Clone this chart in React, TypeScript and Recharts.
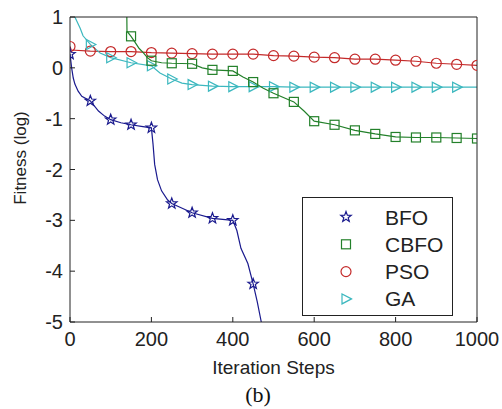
import React from 'react';
import { LineChart, Line, XAxis, YAxis } from 'recharts';

// ---- data ----
const bfoX = [0, 4, 8, 12, 20, 29, 50, 70, 85, 100, 125, 150, 175, 200, 204, 208, 215, 225, 240, 250, 300, 350, 400, 410, 420, 437, 450, 460, 470];
const bfoY = [0.27, 0.0, -0.2, -0.32, -0.46, -0.56, -0.65, -0.85, -0.95, -1.02, -1.08, -1.12, -1.15, -1.18, -1.5, -1.9, -2.2, -2.42, -2.6, -2.67, -2.85, -2.96, -3.0, -3.2, -3.55, -3.85, -4.25, -4.6, -5.0];

const cbfoX = [139, 140, 150, 160, 170, 180, 190, 200, 225, 250, 300, 325, 350, 400, 425, 450, 475, 500, 550, 575, 600, 650, 700, 750, 800, 850, 900, 950, 1000];
const cbfoY = [1.5, 0.72, 0.62, 0.5, 0.38, 0.3, 0.2, 0.14, 0.1, 0.09, 0.08, 0.0, -0.04, -0.06, -0.18, -0.28, -0.4, -0.5, -0.67, -0.85, -1.05, -1.12, -1.23, -1.3, -1.36, -1.37, -1.37, -1.38, -1.39];

const psoX = [0, 3, 50, 100, 150, 200, 250, 300, 350, 400, 450, 500, 550, 600, 650, 700, 750, 800, 850, 900, 950, 1000];
const psoY = [0.42, 0.35, 0.33, 0.32, 0.32, 0.3, 0.29, 0.28, 0.27, 0.27, 0.27, 0.24, 0.23, 0.21, 0.2, 0.17, 0.17, 0.15, 0.13, 0.09, 0.07, 0.05];

const gaX = [0, 12, 25, 32, 50, 74, 100, 150, 200, 221, 250, 275, 300, 350, 400, 450, 500, 550, 600, 650, 700, 750, 800, 850, 900, 950, 1000];
const gaY = [1.4, 1.0, 0.78, 0.63, 0.46, 0.29, 0.2, 0.1, 0.04, -0.1, -0.22, -0.3, -0.33, -0.36, -0.37, -0.37, -0.37, -0.38, -0.38, -0.38, -0.38, -0.38, -0.38, -0.38, -0.38, -0.38, -0.38];

const seriesNames = ['BFO', 'CBFO', 'PSO', 'GA'];
const xTicks = [0, 200, 400, 600, 800, 1000];
const yTicks = [-5, -4, -3, -2, -1, 0, 1];

const zip = (xs: number[], ys: number[]) => xs.map((x, i) => ({ x, y: ys[i] }));
const bfoData = zip(bfoX, bfoY);
const cbfoData = zip(cbfoX, cbfoY);
const psoData = zip(psoX, psoY);
const gaData = zip(gaX, gaY);

const C_BFO = '#1a1a8e';
const C_CBFO = '#23802a';
const C_PSO = '#c42a2a';
const C_GA = '#3cb8bf';

type Shape = 'star' | 'square' | 'circle' | 'tri';

function Marker({ shape, color, cx, cy }: { shape: Shape; color: string; cx: number; cy: number }) {
  if (shape === 'star') {
    const pts: string[] = [];
    for (let i = 0; i < 10; i++) {
      const r = i % 2 === 0 ? 5.5 : 2.3;
      const a = -Math.PI / 2 + (i * Math.PI) / 5;
      pts.push(`${cx + r * Math.cos(a)},${cy + r * Math.sin(a)}`);
    }
    return <polygon points={pts.join(' ')} fill="none" stroke={color} strokeWidth={1.2} />;
  }
  if (shape === 'square') {
    return <rect x={cx - 4.5} y={cy - 4.5} width={9} height={9} fill="none" stroke={color} strokeWidth={1.2} />;
  }
  if (shape === 'circle') {
    return <circle cx={cx} cy={cy} r={5} fill="none" stroke={color} strokeWidth={1.2} />;
  }
  return (
    <polygon
      points={`${cx + 5.5},${cy} ${cx - 4},${cy - 5} ${cx - 4},${cy + 5}`}
      fill="none"
      stroke={color}
      strokeWidth={1.2}
    />
  );
}

function makeDot(shape: Shape, color: string, maxMark: number) {
  return (props: any) => {
    const { cx, cy, payload, index } = props;
    if (
      payload == null ||
      payload.x % 50 !== 0 ||
      payload.x > maxMark ||
      payload.y > 1 ||
      payload.y < -5
    ) {
      return <g key={`e${index}`} />;
    }
    return (
      <g key={`m${index}`}>
        <Marker shape={shape} color={color} cx={cx} cy={cy} />
      </g>
    );
  };
}

const tickFont = { fontSize: 20, fontFamily: 'Liberation Sans, Arial, sans-serif', fill: '#222' };

function YTitle() {
  const cx = 20;
  const cy = 158;
  return (
    <text
      x={cx}
      y={cy}
      transform={`rotate(-90 ${cx} ${cy})`}
      textAnchor="middle"
      dominantBaseline="central"
      fontSize={17}
      fontFamily="Liberation Sans, Arial, sans-serif"
      fill="#222"
    >
      Fitness (log)
    </text>
  );
}

const legendItems: { name: string; shape: Shape; color: string }[] = [
  { name: seriesNames[0], shape: 'star', color: C_BFO },
  { name: seriesNames[1], shape: 'square', color: C_CBFO },
  { name: seriesNames[2], shape: 'circle', color: C_PSO },
  { name: seriesNames[3], shape: 'tri', color: C_GA },
];

export default function App() {
  return (
    <div style={{ position: 'absolute', left: 0, top: 0, width: 502, height: 409, background: '#fff' }}>
      <LineChart
        width={502}
        height={409}
        margin={{ top: 16, right: 24, bottom: 27, left: 0 }}
      >
        <XAxis
          dataKey="x"
          type="number"
          domain={[0, 1000]}
          ticks={xTicks}
          allowDataOverflow
          height={60}
          tickSize={-5}
          tickMargin={15}
          tick={tickFont}
          stroke="#222"
          label={{
            value: 'Iteration Steps',
            position: 'insideBottom',
            offset: 8,
            fontSize: 19,
            fontFamily: 'Liberation Sans, Arial, sans-serif',
            fill: '#222',
          }}
        />
        <XAxis
          xAxisId="top"
          orientation="top"
          dataKey="x"
          type="number"
          domain={[0, 1000]}
          ticks={xTicks}
          allowDataOverflow
          height={1}
          tickSize={-5}
          tick={false}
          stroke="#222"
        />
        <YAxis
          type="number"
          domain={[-5, 1]}
          ticks={yTicks}
          allowDataOverflow
          width={70}
          tickSize={-5}
          tickMargin={12}
          tick={tickFont}
          stroke="#222"
          label={<YTitle />}
        />
        <YAxis
          yAxisId="right"
          orientation="right"
          type="number"
          domain={[-5, 1]}
          ticks={yTicks}
          allowDataOverflow
          width={1}
          tickSize={-5}
          tick={false}
          stroke="#222"
        />
        <Line
          data={psoData}
          dataKey="y"
          xAxisId="top"
          yAxisId="right"
          type="linear"
          stroke={C_PSO}
          strokeWidth={1.2}
          isAnimationActive={false}
          dot={makeDot('circle', C_PSO, 1000)}
          activeDot={false}
        />
        <Line
          data={gaData}
          dataKey="y"
          type="linear"
          stroke={C_GA}
          strokeWidth={1.2}
          isAnimationActive={false}
          dot={makeDot('tri', C_GA, 950)}
          activeDot={false}
        />
        <Line
          data={cbfoData}
          dataKey="y"
          type="linear"
          stroke={C_CBFO}
          strokeWidth={1.2}
          isAnimationActive={false}
          dot={makeDot('square', C_CBFO, 1000)}
          activeDot={false}
        />
        <Line
          data={bfoData}
          dataKey="y"
          type="linear"
          stroke={C_BFO}
          strokeWidth={1.2}
          isAnimationActive={false}
          dot={makeDot('star', C_BFO, 1000)}
          activeDot={false}
        />
      </LineChart>

      <div
        style={{
          position: 'absolute',
          left: 302,
          top: 197,
          width: 151,
          height: 119,
          boxSizing: 'border-box',
          border: '1px solid #222',
          background: '#fff',
        }}
      >
        <svg width={149} height={117} style={{ display: 'block' }}>
          {legendItems.map((it, i) => {
            const cy = 19 + i * 27.3;
            return (
              <g key={it.name}>
                <Marker shape={it.shape} color={it.color} cx={43} cy={cy} />
                <text
                  x={82}
                  y={cy + 7.5}
                  fontSize={21}
                  fontFamily="Liberation Sans, Arial, sans-serif"
                  fill="#222"
                >
                  {it.name}
                </text>
              </g>
            );
          })}
        </svg>
      </div>

      <div
        style={{
          position: 'absolute',
          left: 218,
          top: 382,
          width: 80,
          textAlign: 'center',
          fontFamily: 'Liberation Serif, Times New Roman, serif',
          fontSize: 22,
          lineHeight: '26px',
          color: '#111',
        }}
      >
        (b)
      </div>
    </div>
  );
}
